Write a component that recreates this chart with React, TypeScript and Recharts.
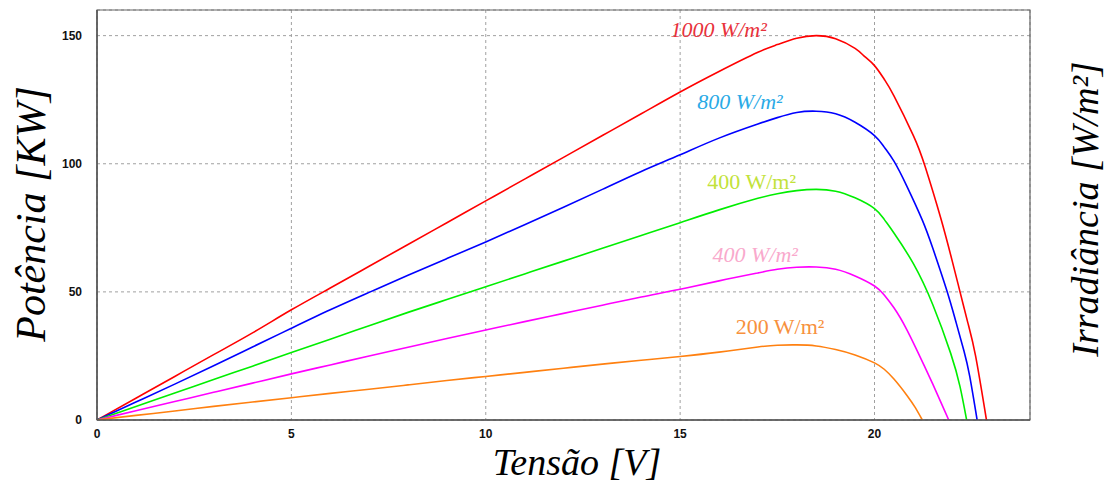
import React from "react";
import { LineChart, Line, XAxis, YAxis, CartesianGrid, ReferenceArea, ReferenceDot } from "recharts";

const xTicks = [0, 5, 10, 15, 20];
const yTicks = [0, 50, 100, 150];

const red1000 = [
  { v: 0, p: 0 }, { v: 1, p: 8.5 }, { v: 2, p: 17 }, { v: 3, p: 25.5 }, { v: 4, p: 34 },
  { v: 5, p: 43 }, { v: 6, p: 51.5 }, { v: 7, p: 60 }, { v: 8, p: 68.5 }, { v: 9, p: 77 },
  { v: 10, p: 85.5 }, { v: 11, p: 94 }, { v: 12, p: 102.5 }, { v: 13, p: 111 }, { v: 14, p: 119.5 },
  { v: 15, p: 128 }, { v: 16, p: 136 }, { v: 17, p: 143.5 }, { v: 17.5, p: 146.5 }, { v: 18, p: 149 },
  { v: 18.5, p: 150 }, { v: 19, p: 148.8 }, { v: 19.5, p: 145 }, { v: 19.75, p: 141.8 }, { v: 20, p: 138.3 },
  { v: 20.25, p: 133 }, { v: 20.5, p: 126.5 }, { v: 21, p: 111 }, { v: 21.3, p: 99 }, { v: 21.7, p: 79 },
  { v: 22, p: 62 }, { v: 22.2, p: 50 }, { v: 22.4, p: 38 }, { v: 22.6, p: 25 }, { v: 22.88, p: 0 },
];

const blue800 = [
  { v: 0, p: 0 }, { v: 1, p: 7 }, { v: 2, p: 14 }, { v: 3, p: 21.2 }, { v: 4, p: 28.5 },
  { v: 5, p: 35.8 }, { v: 6, p: 43 }, { v: 7, p: 49.8 }, { v: 8, p: 56.5 }, { v: 9, p: 63 },
  { v: 10, p: 69.5 }, { v: 11, p: 76.2 }, { v: 12, p: 83 }, { v: 13, p: 90 }, { v: 14, p: 97 },
  { v: 15, p: 103.5 }, { v: 16, p: 110 }, { v: 17, p: 115.5 }, { v: 17.5, p: 118 }, { v: 18, p: 120 },
  { v: 18.5, p: 120.5 }, { v: 19, p: 119.5 }, { v: 19.5, p: 116.2 }, { v: 20, p: 111 }, { v: 20.25, p: 106.5 },
  { v: 20.5, p: 101 }, { v: 20.84, p: 91 }, { v: 21.23, p: 78 }, { v: 21.5, p: 67 }, { v: 21.85, p: 51 },
  { v: 22.1, p: 38 }, { v: 22.3, p: 27 }, { v: 22.45, p: 17 }, { v: 22.64, p: 0 },
];

const green600 = [
  { v: 0, p: 0 }, { v: 1, p: 5.3 }, { v: 2, p: 10.5 }, { v: 3, p: 15.8 }, { v: 4, p: 21 },
  { v: 5, p: 26.3 }, { v: 6, p: 31.5 }, { v: 7, p: 36.8 }, { v: 8, p: 42 }, { v: 9, p: 47 },
  { v: 10, p: 52 }, { v: 11, p: 57 }, { v: 12, p: 62 }, { v: 13, p: 67 }, { v: 14, p: 72 },
  { v: 15, p: 77 }, { v: 16, p: 82 }, { v: 17, p: 86.5 }, { v: 17.5, p: 88.3 }, { v: 18, p: 89.5 },
  { v: 18.5, p: 90 }, { v: 19, p: 89.3 }, { v: 19.5, p: 86.7 }, { v: 20, p: 82.5 }, { v: 20.25, p: 78.3 },
  { v: 20.5, p: 73 }, { v: 21, p: 61 }, { v: 21.5, p: 45 }, { v: 21.96, p: 26 }, { v: 22.2, p: 13 },
  { v: 22.37, p: 0 },
];

const magenta400 = [
  { v: 0, p: 0 }, { v: 1, p: 3.6 }, { v: 2, p: 7.2 }, { v: 3, p: 10.8 }, { v: 4, p: 14.4 },
  { v: 5, p: 18 }, { v: 6, p: 21.5 }, { v: 7, p: 25 }, { v: 8, p: 28.4 }, { v: 9, p: 31.8 },
  { v: 10, p: 35.1 }, { v: 11, p: 38.4 }, { v: 12, p: 41.6 }, { v: 13, p: 44.8 }, { v: 14, p: 48 },
  { v: 15, p: 51 }, { v: 16, p: 54.3 }, { v: 17, p: 57.4 }, { v: 17.5, p: 58.8 }, { v: 18, p: 59.6 },
  { v: 18.5, p: 59.7 }, { v: 19, p: 58.8 }, { v: 19.5, p: 56.2 }, { v: 20, p: 52.3 }, { v: 20.25, p: 48.8 },
  { v: 20.5, p: 43.8 }, { v: 20.84, p: 35 }, { v: 21.27, p: 21.5 }, { v: 21.5, p: 14 }, { v: 21.7, p: 7.2 },
  { v: 21.91, p: 0 },
];

const orange200 = [
  { v: 0, p: 0 }, { v: 1, p: 1.8 }, { v: 2, p: 3.5 }, { v: 3, p: 5.3 }, { v: 4, p: 7 },
  { v: 5, p: 8.7 }, { v: 6, p: 10.4 }, { v: 7, p: 12 }, { v: 8, p: 13.7 }, { v: 9, p: 15.4 },
  { v: 10, p: 17 }, { v: 11, p: 18.6 }, { v: 12, p: 20.2 }, { v: 13, p: 21.8 }, { v: 14, p: 23.3 },
  { v: 15, p: 24.8 }, { v: 16, p: 26.5 }, { v: 17, p: 28.5 }, { v: 17.5, p: 29.2 }, { v: 18, p: 29.3 },
  { v: 18.5, p: 28.9 }, { v: 19, p: 27.5 }, { v: 19.5, p: 25.4 }, { v: 20, p: 22.3 }, { v: 20.25, p: 19.8 },
  { v: 20.5, p: 16 }, { v: 20.84, p: 9.5 }, { v: 21.05, p: 4.8 }, { v: 21.23, p: 0 },
];

const series = [
  { name: "1000", data: red1000, color: "#ff0000" },
  { name: "800", data: blue800, color: "#0000ff" },
  { name: "600", data: green600, color: "#00ee00" },
  { name: "400", data: magenta400, color: "#ff00ff" },
  { name: "200", data: orange200, color: "#ff8010" },
];

const annotations = [
  { text: "1000 W/m²", v: 15.99, p: 152.2, color: "#e8323c", italic: true },
  { text: "800 W/m²", v: 16.54, p: 124.1, color: "#2aaae6", italic: true },
  { text: "400 W/m²", v: 16.84, p: 92.9, color: "#c2e23a", italic: false },
  { text: "400 W/m²", v: 16.93, p: 64.4, color: "#f9a9cc", italic: true },
  { text: "200 W/m²", v: 17.57, p: 36.3, color: "#f7913d", italic: false },
];

const serif = "'Liberation Serif', 'Times New Roman', serif";

function makeLabel(text: string, color: string, italic: boolean) {
  return (props: any) => {
    const vb = props.viewBox || {};
    const cx = (vb.x ?? 0) + (vb.width ?? 0) / 2;
    const cy = (vb.y ?? 0) + (vb.height ?? 0) / 2;
    return (
      <text
        x={cx}
        y={cy}
        textAnchor="middle"
        dominantBaseline="central"
        fill={color}
        fontFamily={serif}
        fontStyle={italic ? "italic" : "normal"}
        fontSize={22}
      >
        {text}
      </text>
    );
  };
}

export default function App() {
  return (
    <div style={{ position: "absolute", left: 0, top: 0, width: 1109, height: 486, background: "#fff" }}>
      <LineChart width={1109} height={486} margin={{ top: 10, right: 79, bottom: 36, left: 37 }}>
        <CartesianGrid stroke="#a0a0a0" strokeDasharray="3 3" />
        <XAxis
          dataKey="v"
          type="number"
          domain={[0, 24]}
          ticks={xTicks}
          allowDataOverflow
          tickLine={false}
          tickSize={0}
          tickMargin={9}
          height={30}
          axisLine={{ stroke: "#555", strokeWidth: 1.5 }}
          tick={{ fill: "#111", fontSize: 12, fontWeight: "bold", fontFamily: "'Liberation Sans', Arial, sans-serif" }}
        />
        <YAxis
          type="number"
          dataKey="p"
          domain={[0, 160]}
          ticks={yTicks}
          allowDataOverflow
          tickLine={false}
          tickSize={0}
          tickMargin={15}
          width={60}
          axisLine={{ stroke: "#555", strokeWidth: 1.5 }}
          tick={{ fill: "#111", fontSize: 12, fontWeight: "bold", fontFamily: "'Liberation Sans', Arial, sans-serif" }}
        />
        <ReferenceArea x1={0} x2={24} y1={0} y2={160} fill="none" stroke="#666" strokeWidth={1.2} ifOverflow="visible" />
        {series.map((s) => (
          <Line
            key={s.name}
            data={s.data}
            dataKey="p"
            type="natural"
            stroke={s.color}
            strokeWidth={1.6}
            dot={false}
            activeDot={false}
            isAnimationActive={false}
          />
        ))}
        {annotations.map((a, i) => (
          <ReferenceDot
            key={i}
            x={a.v}
            y={a.p}
            r={0}
            fill="none"
            stroke="none"
            ifOverflow="visible"
            label={makeLabel(a.text, a.color, a.italic)}
          />
        ))}
      </LineChart>
      <div
        style={{
          position: "absolute",
          left: 577,
          top: 462,
          transform: "translate(-50%, -50%)",
          fontFamily: serif,
          fontStyle: "italic",
          fontSize: 38,
          whiteSpace: "nowrap",
          color: "#000",
          lineHeight: 1,
        }}
      >
        Tensão [V]
      </div>
      <div
        style={{
          position: "absolute",
          left: 31,
          top: 214,
          transform: "translate(-50%, -50%) rotate(-90deg)",
          fontFamily: serif,
          fontStyle: "italic",
          fontSize: 42,
          whiteSpace: "nowrap",
          color: "#000",
          lineHeight: 1,
        }}
      >
        Potência [KW]
      </div>
      <div
        style={{
          position: "absolute",
          left: 1085,
          top: 209,
          transform: "translate(-50%, -50%) rotate(-90deg)",
          fontFamily: serif,
          fontStyle: "italic",
          fontSize: 38,
          whiteSpace: "nowrap",
          color: "#000",
          lineHeight: 1,
        }}
      >
        Irradiância [W/m²]
      </div>
    </div>
  );
}
